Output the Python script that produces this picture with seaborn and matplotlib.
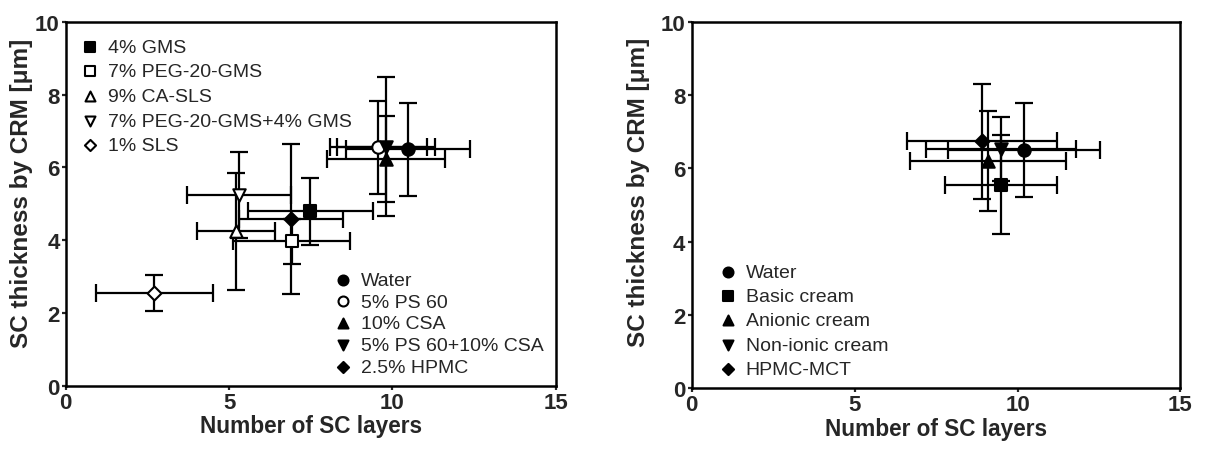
import matplotlib
matplotlib.use("Agg")
import matplotlib.pyplot as plt
import seaborn as sns
import pandas as pd

# Left panel: surfactant / additive formulations
left_a_names = ["4% GMS", "7% PEG-20-GMS", "9% CA-SLS", "7% PEG-20-GMS+4% GMS", "1% SLS"]
left_a_x = [7.49, 6.91, 5.20, 5.30, 2.71]
left_a_y = [4.79, 3.97, 4.24, 5.24, 2.55]
left_a_xerr = [1.90, 1.80, 1.19, 1.59, 1.80]
left_a_yerr = [0.92, 0.62, 1.61, 1.17, 0.50]
left_a_markers = ["s", "s", "^", "v", "D"]
left_a_filled = [True, False, False, False, False]

left_b_names = ["Water", "5% PS 60", "10% CSA", "5% PS 60+10% CSA", "2.5% HPMC"]
left_b_x = [10.48, 9.57, 9.80, 9.80, 6.89]
left_b_y = [6.50, 6.55, 6.23, 6.57, 4.57]
left_b_xerr = [1.90, 1.49, 1.80, 1.49, 1.60]
left_b_yerr = [1.28, 1.28, 1.18, 1.92, 2.06]
left_b_markers = ["o", "o", "^", "v", "D"]
left_b_filled = [True, False, True, True, True]

# Right panel: cream vehicles
right_names = ["Water", "Basic cream", "Anionic cream", "Non-ionic cream", "HPMC-MCT"]
right_x = [10.20, 9.49, 9.09, 9.49, 8.90]
right_y = [6.50, 5.55, 6.19, 6.53, 6.73]
right_xerr = [2.32, 1.71, 2.40, 2.30, 2.30]
right_yerr = [1.29, 1.35, 1.37, 0.88, 1.58]
right_markers = ["o", "s", "^", "v", "D"]
right_filled = [True, True, True, True, True]

x_ticks = [0, 5, 10, 15]
y_ticks = [0, 2, 4, 6, 8, 10]

sns.set_style("ticks")
plt.rcParams["font.family"] = ["Liberation Sans", "DejaVu Sans"]

MSIZE = {"o": 80, "s": 70, "^": 80, "v": 80, "D": 50}


def draw_group(ax, names, xs, ys, xerrs, yerrs, markers, filled):
    handles = []
    df = pd.DataFrame({"x": xs, "y": ys, "xerr": xerrs, "yerr": yerrs, "name": names})
    ax.errorbar(df["x"], df["y"], xerr=df["xerr"], yerr=df["yerr"], fmt="none",
                ecolor="black", elinewidth=1.6, capsize=6.5, capthick=1.6, zorder=2)
    for i, row in df.iterrows():
        fc = "black" if filled[i] else "white"
        sns.scatterplot(x=[row["x"]], y=[row["y"]], ax=ax, marker=markers[i],
                        s=MSIZE[markers[i]], color=fc, edgecolor="black",
                        linewidth=1.5, zorder=3, label=row["name"], legend=False)
        handles.append(ax.collections[-1])
    return handles


def style_axes(ax, ylab_x, ylab_y):
    ax.set_xlim(0, 15)
    ax.set_ylim(0, 10)
    ax.set_xticks(x_ticks)
    ax.set_yticks(y_ticks)
    ax.set_xticklabels([str(t) for t in x_ticks], fontsize=16, fontweight="bold")
    ax.set_yticklabels([str(t) for t in y_ticks], fontsize=16, fontweight="bold")
    ax.tick_params(direction="out", length=3, width=1.6, pad=1.5)
    for sp in ax.spines.values():
        sp.set_visible(True)
        sp.set_linewidth(1.8)
        sp.set_color("black")
    ax.set_xlabel("Number of SC layers", fontsize=16.3, fontweight="bold", labelpad=1)
    ax.set_ylabel("SC thickness by CRM [μm]", fontsize=17.5, fontweight="bold")
    ax.yaxis.set_label_coords(ylab_x, ylab_y)


fig = plt.figure(figsize=(12.07, 4.52), dpi=100)
ax1 = fig.add_axes([0.0545, 0.1445, 0.406, 0.805])
ax2 = fig.add_axes([0.573, 0.139, 0.405, 0.811])

ha = draw_group(ax1, left_a_names, left_a_x, left_a_y, left_a_xerr, left_a_yerr,
                left_a_markers, left_a_filled)
hb = draw_group(ax1, left_b_names, left_b_x, left_b_y, left_b_xerr, left_b_yerr,
                left_b_markers, left_b_filled)
hr = draw_group(ax2, right_names, right_x, right_y, right_xerr, right_yerr,
                right_markers, right_filled)

style_axes(ax1, -0.067, 0.532)
style_axes(ax2, -0.085, 0.538)

leg_kw = dict(frameon=False, fontsize=14, handletextpad=0.43, borderpad=0,
              borderaxespad=0, handlelength=1.0, markerscale=0.8)
leg1 = ax1.legend(ha, left_a_names, loc="upper left", bbox_to_anchor=(0.03, 0.955),
                  labelspacing=0.36, **leg_kw)
ax1.add_artist(leg1)
ax1.legend(hb, left_b_names, loc="lower left", bbox_to_anchor=(0.546, 0.026),
           labelspacing=0.22, **leg_kw)
ax2.legend(hr, right_names, loc="lower left", bbox_to_anchor=(0.054, 0.027),
           labelspacing=0.35, **leg_kw)

fig.savefig("out.png", dpi=100)
